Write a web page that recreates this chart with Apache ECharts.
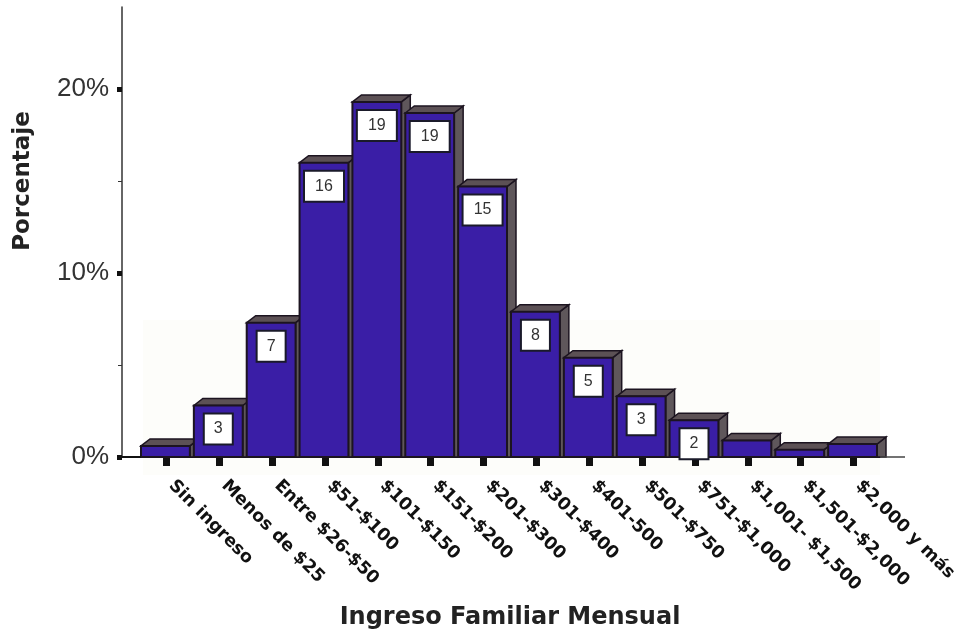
<!DOCTYPE html>
<html><head><meta charset="utf-8">
<style>html,body{margin:0;padding:0;background:#fff}#c{width:961px;height:630px}</style>
<script src="https://cdn.jsdelivr.net/npm/echarts@6/dist/echarts.min.js"></script>
</head><body><div id="c"></div>
<script>
const categories = ["Sin ingreso","Menos de $25","Entre $26-$50","$51-$100","$101-$150","$151-$200","$201-$300","$301-$400","$401-500","$501-$750","$751-$1,000","$1,001- $1,500","$1,501-$2,000","$2,000 y más"];
const percentages = [0.6,2.8,7.3,16.0,19.3,18.7,14.7,7.9,5.4,3.3,2.0,0.9,0.4,0.7];
const barLabels = ["","3","7","16","19","19","15","8","5","3","2","","",""];
const yMajorTicks = [0,10,20];
const yMinorTicks = [5,15];

const FRONT = '#3a1ea6', TOP = '#5c5155', SIDE = '#5f575b', EDGE = '#1c1420';
const rows = percentages.map((v,i)=>[i,v,barLabels[i]]);

function renderBar(params, api){
  const p = api.coord([api.value(0), api.value(1)]);
  const base = api.coord([api.value(0), 0]);
  const band = api.size([1,0])[0];
  const l = p[0]-band/2+1, r = p[0]+band/2-3, t = p[1], b = base[1];
  const dx = 9, dy = 7;
  const kids = [
    {type:'polygon',shape:{points:[[r,t],[r+dx,t-dy],[r+dx,b],[r,b]]},style:{fill:SIDE,stroke:EDGE,lineWidth:1.5}},
    {type:'polygon',shape:{points:[[l,t],[l+dx,t-dy],[r+dx,t-dy],[r,t]]},style:{fill:TOP,stroke:EDGE,lineWidth:1.5}},
    {type:'rect',shape:{x:l,y:t,width:r-l,height:b-t},style:{fill:FRONT,stroke:EDGE,lineWidth:2}}
  ];
  const txt = rows[params.dataIndex][2];
  if(txt){
    const w = txt.length>1 ? 40 : 29, h = 31;
    const cx = p[0]-1, top = t+8;
    kids.push({type:'rect',shape:{x:cx-w/2,y:top,width:w,height:h},style:{fill:'#fff',stroke:'#1a1a2a',lineWidth:2}});
    kids.push({type:'text',style:{x:cx,y:top+h/2,text:txt,align:'center',verticalAlign:'middle',fill:'#333',font:'16px "Liberation Sans"'}});
  }
  return {type:'group',children:kids};
}

const chart = echarts.init(document.getElementById('c'),null,{renderer:'canvas'});
chart.setOption({
  animation:false,
  backgroundColor:'#fff',
  grid:{left:140,right:81,top:7,height:450,outerBoundsMode:'none',containLabel:false},
  xAxis:{type:'category',data:categories,
    axisLine:{lineStyle:{color:'#111',width:2}},
    axisTick:{show:true,alignWithLabel:true,length:9,lineStyle:{color:'#111',width:7}},
    axisLabel:{interval:0,rotate:-45,margin:21,padding:[0,0,0,7],fontFamily:'DejaVu Sans',fontWeight:'bold',fontSize:17.5,color:'#111'},
    name:'Ingreso Familiar Mensual',nameLocation:'middle',nameGap:149,
    nameTextStyle:{fontFamily:'DejaVu Sans',fontWeight:'bold',fontSize:24,color:'#222'}},
  yAxis:[
    {type:'value',min:0,max:24.46,offset:18,splitLine:{show:false},
     axisLine:{show:true,lineStyle:{color:'#333',width:1.5}},
     axisTick:{show:true,length:5,customValues:yMajorTicks,lineStyle:{color:'#111',width:5}},
     axisLabel:{customValues:yMajorTicks,margin:13,formatter:'{value}%',fontFamily:'Liberation Sans',fontSize:26,color:'#333'}},
    {type:'value',min:0,max:24.46,offset:18,position:'left',splitLine:{show:false},
     axisLine:{show:false},
     axisTick:{show:true,length:4,customValues:yMinorTicks,lineStyle:{color:'#333',width:1}},
     axisLabel:{show:false}}
  ],
  graphic:[
    {type:'rect',z:-1,silent:true,shape:{x:143,y:320,width:737,height:155},style:{fill:'#fdfdfa'}},
    {type:'line',z:10,shape:{x1:118,y1:457,x2:141,y2:457},style:{stroke:'#111',lineWidth:2}},
    {type:'line',z:10,shape:{x1:880,y1:457,x2:905,y2:457},style:{stroke:'#444',lineWidth:1.5}},
    {type:'text',z:10,x:23,y:181,rotation:Math.PI/2,style:{text:'Porcentaje',align:'center',verticalAlign:'middle',fill:'#222',font:'bold 23px "DejaVu Sans"'}}
  ],
  series:[{type:'custom',renderItem:renderBar,clip:false,encode:{x:0,y:1},data:rows}]
});
</script></body></html>
